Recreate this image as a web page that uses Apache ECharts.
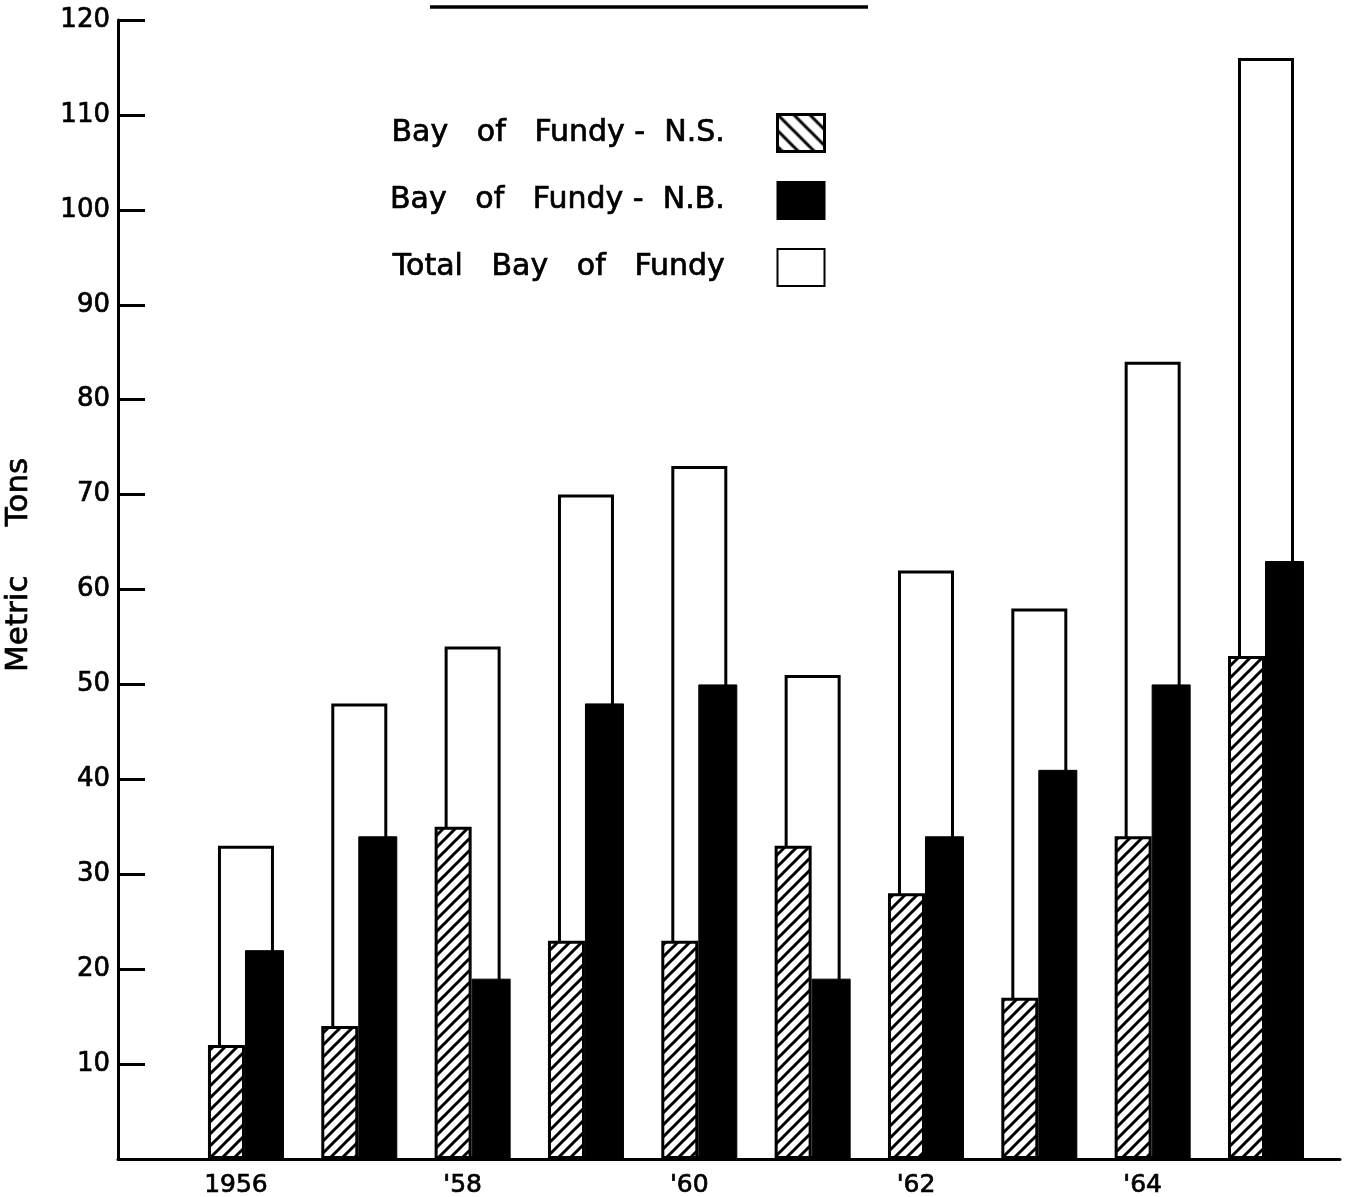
<!DOCTYPE html>
<html>
<head>
<meta charset="utf-8">
<script src="https://cdn.jsdelivr.net/npm/echarts@6/dist/echarts.min.js"></script>
<style>
  html, body { margin: 0; padding: 0; background: #fff; }
  #chart { width: 1348px; height: 1197px; }
</style>
</head>
<body>
<div id="chart"></div>
<script>
// Bay of Fundy landings, metric tons
const years = [1956, 1957, 1958, 1959, 1960, 1961, 1962, 1963, 1964, 1965];
const totalFundy = [33, 48, 54, 70, 73, 51, 62, 58, 84, 116];
const novaScotia = [12, 14, 35, 23, 23, 33, 28, 17, 34, 53];
const newBrunswick = [22, 34, 19, 48, 50, 19, 34, 41, 50, 63];

// x-axis tick labels
const xLabelYears = [1956, 1958, 1960, 1962, 1964];
const xLabels = ['1956', "'58", "'60", "'62", "'64"];

const seriesNames = ['Bay   of   Fundy -  N.S.', 'Bay   of   Fundy -  N.B.', 'Total   Bay   of   Fundy'];

const FONT = 'DejaVu Sans';
// slightly heavier strokes for the hand-lettered look
const ink = { color: '#000', fontFamily: FONT, textBorderColor: '#000', textBorderWidth: 0.7 };

// diagonal hatch tile: '/' or '\'
function hatch(dir, s, w) {
  const c = document.createElement('canvas');
  c.width = s; c.height = s;
  const g = c.getContext('2d');
  g.fillStyle = '#fff';
  g.fillRect(0, 0, s, s);
  g.strokeStyle = '#000';
  g.lineWidth = w;
  g.beginPath();
  if (dir === '/') {
    [0, s, 2 * s].forEach(k => { g.moveTo(-2, k + 2); g.lineTo(s + 2, k - s - 2); });
  } else {
    [-s, 0, s].forEach(k => { g.moveTo(-2, k - 2); g.lineTo(s + 2, k + s + 2); });
  }
  g.stroke();
  return { image: c, repeat: 'repeat' };
}

const pairs = arr => years.map((y, i) => [y, arr[i]]);

const chart = echarts.init(document.getElementById('chart'), null, { renderer: 'canvas' });

const xRange = { min: 1954.871, max: 1965.653 };

chart.setOption({
  backgroundColor: '#fff',
  animation: false,
  grid: { left: 118, right: 8, top: 20, bottom: 38, containLabel: false, outerBoundsMode: 'none' },
  graphic: [{
    type: 'line',
    shape: { x1: 430, y1: 7, x2: 868, y2: 7 },
    style: { stroke: '#000', lineWidth: 3.5 }
  }],
  legend: {
    orient: 'vertical',
    right: 522,
    top: 113,
    padding: 0,
    align: 'right',
    icon: 'rect',
    itemWidth: 47,
    itemHeight: 37,
    itemGap: 28,
    selectedMode: false,
    formatter: n => n + '     ',
    textStyle: Object.assign({ fontSize: 30 }, ink),
    data: [
      { name: seriesNames[0], itemStyle: { color: hatch('\\', 16, 3), borderColor: '#000', borderWidth: 3 } },
      { name: seriesNames[1] },
      { name: seriesNames[2] }
    ]
  },
  xAxis: [
    {
      type: 'value',
      min: xRange.min,
      max: xRange.max,
      splitLine: { show: false },
      axisTick: { show: false },
      axisLine: { show: true, lineStyle: { color: '#000', width: 3 } },
      axisLabel: Object.assign({
        customValues: xLabelYears,
        formatter: v => xLabels[xLabelYears.indexOf(v)] || '',
        fontSize: 25,
        margin: 14,
        padding: [0, 20, 0, 0]
      }, ink)
    },
    {
      type: 'value',
      min: xRange.min,
      max: xRange.max,
      show: false,
      position: 'bottom'
    }
  ],
  yAxis: {
    type: 'value',
    min: 0,
    max: 120,
    interval: 10,
    name: '     Metric     Tons',
    nameLocation: 'middle',
    nameRotate: 90,
    nameGap: 84,
    nameTextStyle: Object.assign({ fontSize: 31 }, ink),
    splitLine: { show: false },
    axisLine: { show: true, lineStyle: { color: '#000', width: 3 } },
    axisTick: { show: true, inside: true, length: 27, lineStyle: { color: '#000', width: 3 } },
    axisLabel: Object.assign({
      formatter: v => (v === 0 ? '' : String(v)),
      fontSize: 26,
      margin: 8
    }, ink)
  },
  series: [
    {
      name: seriesNames[2],
      type: 'bar',
      xAxisIndex: 0,
      barWidth: 56,
      data: pairs(totalFundy),
      itemStyle: { color: '#fff', borderColor: '#000', borderWidth: 3 }
    },
    {
      name: seriesNames[0],
      type: 'bar',
      xAxisIndex: 1,
      barWidth: 37,
      data: pairs(novaScotia),
      itemStyle: { color: hatch('/', 12, 3), borderColor: '#000', borderWidth: 3 }
    },
    {
      name: seriesNames[1],
      type: 'bar',
      xAxisIndex: 1,
      barWidth: 39,
      barGap: '0%',
      data: pairs(newBrunswick),
      itemStyle: { color: '#000', borderColor: '#000', borderWidth: 1 }
    }
  ]
});
</script>
</body>
</html>
